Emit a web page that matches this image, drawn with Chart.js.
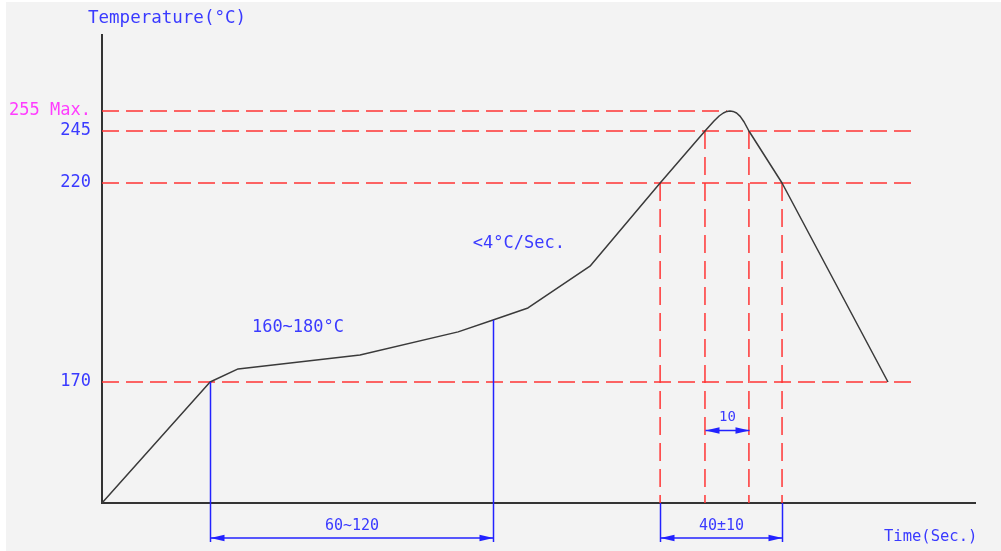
<!DOCTYPE html>
<html><head><meta charset="utf-8">
<script src="https://cdn.jsdelivr.net/npm/chart.js@4"></script>
<style>html,body{margin:0;padding:0;background:#fff;}canvas{display:block;}</style>
</head><body>
<canvas id="c" width="1001" height="551" style="width:1001px;height:551px"></canvas>
<script>
// ---------------- data (time in s, temperature in °C) ----------------
const profileTime = [0, 35.9, 45.2, 85.7, 118.3, 129.9, 141.5, 162.1, 185.4, 200.3, 203.3, 205.0, 206.4, 207.6, 208.6, 209.6, 210.8, 212.0, 213.3, 214.9, 225.9, 261.1];
const profileTemp = [25, 170, 173.3, 176.8, 182.6, 185.6, 188.6, 199.1, 220, 245, 250, 252.5, 254.0, 254.8, 255, 254.8, 254.0, 252.3, 249.5, 245, 220, 170];
const levelTemps = [255, 245, 220, 170];
const levelEndTimes = [207.6, 270, 270, 270];
const markerTimes = [185.4, 200.3, 214.9, 225.9];
const markerTemps = [220, 245, 245, 220];
const tickTemps = [170, 220, 245, 255];
const tickLabels = ['170', '220', '245', '255 Max.'];
const soakSpan = [35.9, 129.9];
const soakSpanTemps = [170, 185.6];
const liquidusSpan = [185.4, 225.9];
const peakSpan = [200.3, 214.9];
const peakSpanTemp = 112;
const dimLabels = ['60~120', '40±10', '10'];
const noteTexts = ['160~180°C', '<4°C/Sec.'];
const noteTimes = [49.8, 123.2];
const noteTemps = [183.8, 204.7];
const roomTemp = 25, axisTopTemp = 293, timeMax = 290;

// ---------------- non-uniform (schematic) temperature scale ----------------
const yBreakValues = [roomTemp, 170, 220, 245, 255, axisTopTemp];
const yBreakFractions = [0, 0.2585, 0.6838, 0.7949, 0.8376, 1];
class PiecewiseScale extends Chart.LinearScale {
  getPixelForValue(value) {
    if (value === null || value === undefined || isNaN(value)) return NaN;
    const v = yBreakValues, f = yBreakFractions;
    let i = 0;
    while (i < v.length - 2 && value > v[i + 1]) i++;
    const dec = f[i] + (value - v[i]) / (v[i + 1] - v[i]) * (f[i + 1] - f[i]);
    return this.getPixelForDecimal(dec);
  }
  getValueForPixel(pixel) {
    const dec = this.getDecimalForPixel(pixel);
    const v = yBreakValues, f = yBreakFractions;
    let i = 0;
    while (i < f.length - 2 && dec > f[i + 1]) i++;
    return v[i] + (dec - f[i]) / (f[i + 1] - f[i]) * (v[i + 1] - v[i]);
  }
}
PiecewiseScale.id = 'piecewise';
PiecewiseScale.defaults = Chart.LinearScale.defaults;
Chart.register(PiecewiseScale);

const FONT = '"DejaVu Sans Mono", monospace';
const RED = '#ff3535', BLUE = '#2222ff', TXT = '#3a3aff', MAGENTA = '#ff3cff', AXIS = '#333333';

const datasets = [];
datasets.push({ data: profileTime.map((t, i) => ({ x: t, y: profileTemp[i] })), borderColor: '#3a3a3a', borderWidth: 1.5, pointRadius: 0, tension: 0, borderJoinStyle: 'round', clip: false });
levelTemps.forEach((T, i) => datasets.push({ data: [{ x: 0, y: T }, { x: levelEndTimes[i], y: T }], borderColor: RED, borderWidth: 1.5, borderDash: [17, 7], pointRadius: 0, clip: false }));
markerTimes.forEach((t, i) => datasets.push({ data: [{ x: t, y: markerTemps[i] }, { x: t, y: roomTemp }], borderColor: RED, borderWidth: 1.5, borderDash: [18, 8], pointRadius: 0, clip: false }));

function arrowHead(ctx, tipX, tipY, dir) {
  ctx.beginPath();
  ctx.moveTo(tipX, tipY);
  ctx.lineTo(tipX + dir * 14, tipY - 3.2);
  ctx.lineTo(tipX + dir * 14, tipY + 3.2);
  ctx.closePath();
  ctx.fill();
}

const bg = { id: 'bg', beforeDraw(chart) {
  const c = chart.ctx; c.save();
  c.fillStyle = '#ffffff'; c.fillRect(0, 0, chart.width, chart.height);
  c.fillStyle = '#f3f3f3'; c.fillRect(6, 2, chart.width - 6, chart.height - 2);
  c.restore();
} };

const notes = { id: 'notes', afterDatasetsDraw(chart) {
  const { ctx, scales: { x, y }, chartArea: a } = chart;
  ctx.save();
  ctx.strokeStyle = BLUE; ctx.fillStyle = BLUE; ctx.lineWidth = 1.5;
  const dimBottom = a.bottom + 39, dimY = a.bottom + 35;
  const vline = (t, y1, y2) => { const px = Math.round(x.getPixelForValue(t)) + 0.5; ctx.beginPath(); ctx.moveTo(px, y1); ctx.lineTo(px, y2); ctx.stroke(); };
  vline(soakSpan[0], y.getPixelForValue(soakSpanTemps[0]), dimBottom);
  vline(soakSpan[1], y.getPixelForValue(soakSpanTemps[1]), dimBottom);
  vline(liquidusSpan[0], a.bottom, dimBottom);
  vline(liquidusSpan[1], a.bottom, dimBottom);
  const dim = (span, py, label, size, dy) => {
    const x1 = Math.round(x.getPixelForValue(span[0])) + 0.5, x2 = Math.round(x.getPixelForValue(span[1])) + 0.5;
    ctx.beginPath(); ctx.moveTo(x1, py); ctx.lineTo(x2, py); ctx.stroke();
    arrowHead(ctx, x1, py, 1); arrowHead(ctx, x2, py, -1);
    ctx.save(); ctx.fillStyle = TXT; ctx.font = size + 'px ' + FONT; ctx.textAlign = 'center'; ctx.textBaseline = 'middle';
    ctx.fillText(label, (x1 + x2) / 2, py + dy); ctx.restore();
  };
  dim(soakSpan, dimY, dimLabels[0], 15, -12);
  dim(liquidusSpan, dimY, dimLabels[1], 15, -12);
  dim(peakSpan, Math.round(y.getPixelForValue(peakSpanTemp)) + 0.5, dimLabels[2], 14, -13);
  ctx.fillStyle = TXT; ctx.font = '17px ' + FONT; ctx.textAlign = 'left'; ctx.textBaseline = 'middle';
  noteTexts.forEach((s, i) => ctx.fillText(s, x.getPixelForValue(noteTimes[i]), y.getPixelForValue(noteTemps[i])));
  ctx.font = '17.5px ' + FONT; ctx.fillText('Temperature(°C)', 88, 18);
  ctx.font = '15.5px ' + FONT; ctx.fillText('Time(Sec.)', 884, 537);
  ctx.restore();
} };

new Chart(document.getElementById('c'), {
  type: 'line',
  data: { datasets },
  options: {
    responsive: false, animation: false, devicePixelRatio: 1,
    layout: { padding: { top: 35, right: 26, left: 0, bottom: 0 } },
    plugins: { legend: { display: false }, tooltip: { enabled: false } },
    scales: {
      x: { type: 'linear', min: 0, max: timeMax,
        grid: { display: false, drawTicks: false }, ticks: { display: false },
        border: { display: true, color: AXIS, width: 2 },
        afterFit(s) { s.height = 48; } },
      y: { type: 'piecewise', min: roomTemp, max: axisTopTemp,
        grid: { display: false, drawTicks: false },
        border: { display: true, color: AXIS, width: 2 },
        afterBuildTicks(s) { s.ticks = tickTemps.map(v => ({ value: v })); },
        ticks: { padding: 11, font: { family: FONT, size: 17 },
          color: c => (c.tick && c.tick.value === 255) ? MAGENTA : TXT,
          callback: (v) => tickLabels[tickTemps.indexOf(v)] },
        afterFit(s) { s.width = 102; } }
    }
  },
  plugins: [bg, notes]
});
</script>
</body></html>
